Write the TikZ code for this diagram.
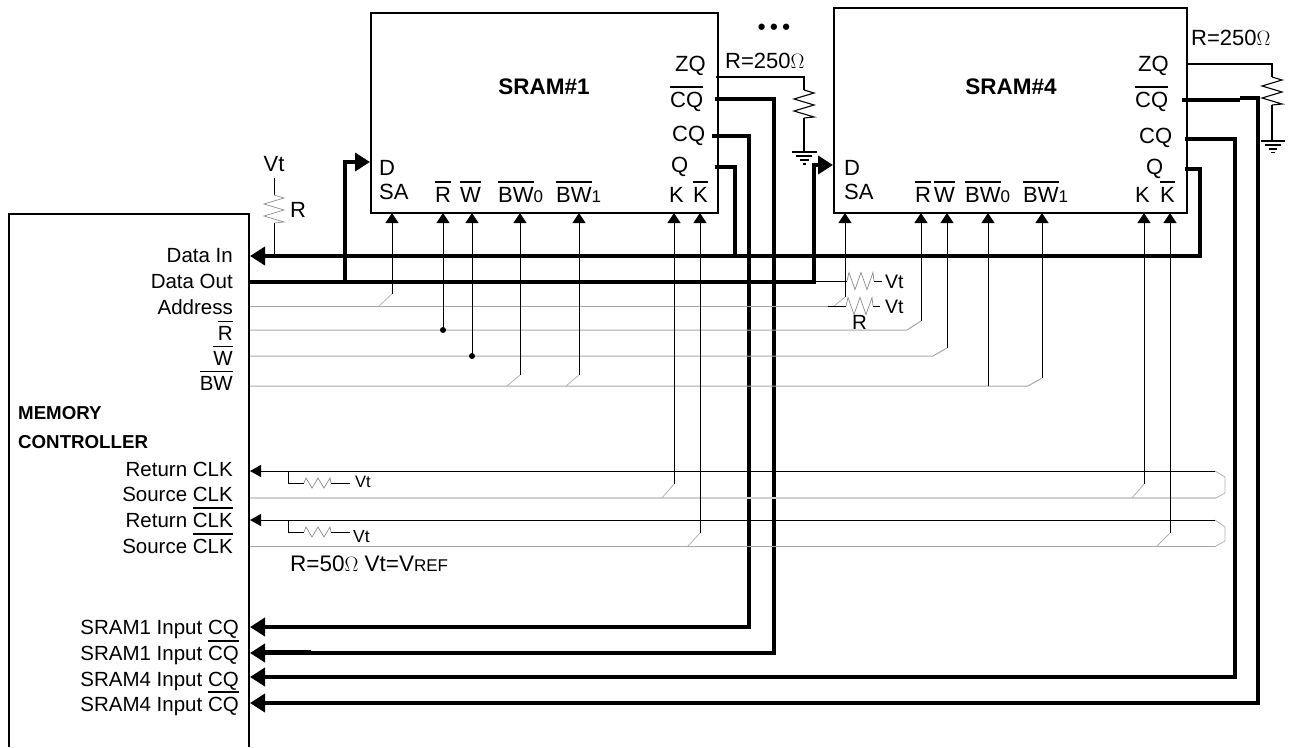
\documentclass[tikz,border=0pt]{standalone}
\usepackage{fontspec}
\setmainfont{Liberation Sans}
\usetikzlibrary{arrows.meta}
\newcommand{\ovl}[1]{\leavevmode\vbox{\hrule height 1.8pt\kern 3.6pt\hbox{#1}}}
\newcommand{\sbs}[1]{{\fontsize{17}{17}\selectfont #1}}
% horizontal zigzag resistor: x, y, amplitude
\newcommand{\hres}[3]{\draw[zig] (#1,#2) -- ++(2,-#3) -- ++(6,2*#3) -- ++(6,-2*#3) -- ++(6,2*#3) -- ++(6,-2*#3) -- ++(1,#3);}
% vertical zigzag resistor: x, y, amplitude, style
\newcommand{\vres}[4]{\draw[#4] (#1,#2) -- ++(#3,3) -- ++(-2*#3,6) -- ++(2*#3,6) -- ++(-2*#3,6) -- ++(2*#3,6) -- ++(-#3,1);}
\tikzset{
  x=1pt,y=-1pt,
  boxline/.style={draw=black,line width=1.8pt,line join=miter},
  pinbox/.style={boxline,fill=none,inner sep=0pt,anchor=north west},
  bus/.style={draw=black,line width=4pt,line join=miter},
  busin/.style={bus,-{Triangle[length=15pt,width=18pt]}},
  sig/.style={draw=black,line width=1pt},
  sigin/.style={sig,-{Triangle[length=10pt,width=13pt]}},
  clkin/.style={sig,-{Triangle[length=11pt,width=12pt]}},
  grayline/.style={draw=black!35,line width=1pt},
  palegray/.style={draw=black!18,line width=1.6pt},
  stub/.style={draw=black!30,line width=.8pt},
  zig/.style={draw=black!45,line width=.7pt},
  lbl/.style={inner sep=0pt,anchor=base east,font=\fontsize{20.5}{20.5}\selectfont},
  pin/.style={inner sep=0pt,anchor=base west,font=\fontsize{22}{22}\selectfont},
  dotjoin/.style={circle,fill=black,inner sep=0pt,minimum size=6pt},
}
\begin{document}
\begin{tikzpicture}
\useasboundingbox (0,0) rectangle (1290,747);
% boxes
\draw[boxline] (9,747) -- (9,214) -- (249,214) -- (249,747);
\node[pinbox,minimum width=347pt,minimum height=200pt] (sramA) at (370,12) {};
\node[pinbox,minimum width=353pt,minimum height=205pt] (sramD) at (833,7) {};
\node[inner sep=0pt,font=\bfseries\fontsize{22.5}{22.5}\selectfont] (tA) at (544,87) {SRAM\#1};
\node[inner sep=0pt,font=\bfseries\fontsize{22.5}{22.5}\selectfont] (tD) at (1011,87) {SRAM\#4};
\node[inner sep=0pt,font=\bfseries\fontsize{22}{22}\selectfont] (dots) at (774,29) {•\kern4.5pt•\kern4.5pt•};
% controller pins
\coordinate (cDI) at (250,256); \coordinate (cDO) at (249,282);
\coordinate (cAD) at (250,306); \coordinate (cR) at (250,330);
\coordinate (cW) at (250,356); \coordinate (cBW) at (250,386);
\coordinate (cRC) at (250,471); \coordinate (cSC) at (250,498);
\coordinate (cRN) at (250,520); \coordinate (cSN) at (250,546);
\coordinate (c1Q) at (250,627); \coordinate (c1N) at (250,653);
\coordinate (c4Q) at (250,677); \coordinate (c4N) at (250,703);
% thick buses
\draw[busin] (1185,169) -- (1200,169) -- (1200,256) -- (cDI);
\draw[bus] (715,167) -- (735,167) -- (735,256);
\draw[bus] (cDO) -- (814,282);
\draw[busin] (345,284) -- (345,162) -- (370,162);
\draw[busin] (814,284) -- (814,165) -- (833,165);
\draw[busin] (712,136) -- (749,136) -- (749,627) -- (c1Q);
\draw[busin] (715,99) -- (774,99) -- (774,653) -- (c1N);
\draw[bus] (265,652.4) -- (311,652.4);
\draw[busin] (1185,139) -- (1235,139) -- (1235,677) -- (c4Q);
\draw[busin] (1240,98) -- (1258,98) -- (1258,703) -- (c4N);
\draw[bus] (1182,100) -- (1240,100);
% address and control
\draw[grayline] (cAD) -- (834,306);
\draw[grayline] (cR) -- (907,330) -- (921,321);
\draw[grayline] (cW) -- (933,356) -- (947,348);
\draw[grayline] (cBW) -- (1028,386) -- (1042,378);
\draw[stub] (379,306) -- (392,294);
\draw[stub] (507,386) -- (520,375);
\draw[stub] (566,386) -- (579,375);
\draw[stub] (834,306) -- (845,297);
\draw[sigin] (392,294) -- (392,213);
\draw[sigin] (443,330) -- (443,213);
\draw[sigin] (472,356) -- (472,213);
\draw[sigin] (520,375) -- (520,213);
\draw[sigin] (579,375) -- (579,213);
\draw[sigin] (845,297) -- (845,213);
\draw[sigin] (921,321) -- (921,213);
\draw[sigin] (947,348) -- (947,213);
\draw[sigin] (988,386) -- (988,213);
\draw[sigin] (1042,378) -- (1042,213);
\node[dotjoin] (jR) at (443,330) {};
\node[dotjoin] (jW) at (472,356) {};
% clocks
\draw[palegray] (cSC) -- (1216,498);
\draw[grayline] (cSN) -- (1216,546);
\draw[stub] (1215,471) -- (1225,477) -- (1225,493) -- (1216,498);
\draw[stub] (1215,520) -- (1225,527) -- (1225,541) -- (1216,546);
\draw[clkin] (1215,471) -- (cRC);
\draw[clkin] (1215,520) -- (cRN);
\draw[stub] (662,498) -- (674,484);
\draw[stub] (688,546) -- (700,533);
\draw[stub] (1132,498) -- (1144,484);
\draw[stub] (1157,546) -- (1170,533);
\draw[sigin] (674,484) -- (674,213);
\draw[sigin] (700,533) -- (700,213);
\draw[sigin] (1144,484) -- (1144,213);
\draw[sigin] (1170,533) -- (1170,213);
% clock terminations
\draw[sig] (288,471) -- (288,483) -- (304,483);
\hres{304}{483}{5}
\draw[sig] (331,483) -- (350,483);
\draw[sig] (288,520) -- (288,532) -- (304,532);
\hres{304}{532}{5}
\draw[sig] (331,532) -- (350,532);
\node[inner sep=0pt,anchor=base west,font=\fontsize{16.5}{16.5}\selectfont] (vtA) at (355,487) {Vt};
\node[inner sep=0pt,anchor=base west,font=\fontsize{17.5}{17.5}\selectfont] (vtB) at (353,542) {Vt};
% Vt pull-up on Data In
\draw[sig] (274,178) -- (274,195);
\vres{274}{195}{10}{zig}
\draw[sig] (274,223) -- (274,256);
\node[pin,anchor=base] (vtC) at (274,171) {Vt};
\node[pin] (rC) at (290,217) {R};
% end terminations
\draw[sig] (815,281) -- (847,281);
\hres{847}{281}{8.5}
\draw[sig] (874,281) -- (882,281);
\node[pin,font=\fontsize{19.5}{19.5}\selectfont] (vtD) at (885,288) {Vt};
\draw[sig] (828,306) -- (846,306);
\hres{846}{306}{8.5}
\draw[sig] (873,306) -- (880,306);
\node[pin,font=\fontsize{19.5}{19.5}\selectfont] (vtE) at (885,313) {Vt};
\node[pin,font=\fontsize{20.5}{20.5}\selectfont] (rE) at (852,329) {R};
% ZQ resistors and grounds
\draw[sig,line width=1.2pt] (716,77) -- (804,77) -- (804,90);
\vres{804}{90}{10}{sig,line width=1.1pt}
\draw[sig,line width=1.2pt] (804,118) -- (804,152);
\draw[sig,line width=1.6pt] (792,152) -- (817,152) (796,156) -- (812,156) (800,160) -- (809,160) (803,164) -- (806,164);
\draw[sig,line width=1.2pt] (1186,64) -- (1272,64) -- (1272,77);
\vres{1272}{77}{10}{sig,line width=1.1pt}
\draw[sig,line width=1.2pt] (1272,105) -- (1272,141);
\draw[sig,line width=1.6pt] (1261,141) -- (1285,141) (1265,145) -- (1281,145) (1269,149) -- (1277,149) (1271,152.5) -- (1275,152.5);
\node[pin] (rzA) at (725,68) {R=250$\Omega$};
\node[pin] (rzD) at (1191,45) {R=250$\Omega$};
% controller labels
\node[lbl] (lDI) at (233,262) {Data In};
\node[lbl] (lDO) at (233,288) {Data Out};
\node[lbl] (lAD) at (233,314) {Address};
\node[lbl] (lR) at (233,340) {\ovl{R}};
\node[lbl] (lW) at (233,365) {\ovl{W}};
\node[lbl] (lBW) at (233,390) {\ovl{BW}};
\node[inner sep=0pt,anchor=base west,font=\bfseries\fontsize{18.7}{18.7}\selectfont] (mem) at (18,419) {MEMORY};
\node[inner sep=0pt,anchor=base west,font=\bfseries\fontsize{18.7}{18.7}\selectfont] (ctl) at (18,448) {CONTROLLER};
\node[lbl] (lRC) at (233,476) {Return CLK};
\node[lbl] (lSC) at (233,501) {Source CLK};
\node[lbl] (lRN) at (233,527) {Return \ovl{CLK}};
\node[lbl] (lSN) at (233,553) {Source \ovl{CLK}};
\node[pin,font=\fontsize{22.5}{22.5}\selectfont] (note) at (290,571) {R=50$\Omega$ Vt=V{\fontsize{17}{17}\selectfont REF}};
\node[lbl] (l1Q) at (239,634) {SRAM1 Input CQ};
\node[lbl] (l1N) at (239,660) {SRAM1 Input \ovl{CQ}};
\node[lbl] (l4Q) at (239,686) {SRAM4 Input CQ};
\node[lbl] (l4N) at (239,711) {SRAM4 Input \ovl{CQ}};
% SRAM#1 pins
\node[pin] (a1) at (379,175) {D};
\node[pin] (a2) at (379,199) {SA};
\node[pin] (a3) at (435,202) {\ovl{R}};
\node[pin] (a4) at (460,202) {\ovl{W}};
\node[pin] (a5) at (498,202) {\ovl{BW}\sbs{0}};
\node[pin] (a6) at (556,202) {\ovl{BW}\sbs{1}};
\node[pin] (a7) at (669,202) {K};
\node[pin] (a8) at (693,202) {\ovl{K}};
\node[pin] (a9) at (671,172) {Q};
\node[pin] (a10) at (672,141) {CQ};
\node[pin] (a11) at (670,107) {\ovl{CQ}};
\node[pin] (a12) at (675,71) {ZQ};
% SRAM#4 pins
\node[pin] (b1) at (844,175) {D};
\node[pin] (b2) at (844,199) {SA};
\node[pin] (b3) at (915,202) {\ovl{R}};
\node[pin] (b4) at (934,202) {\ovl{W}};
\node[pin] (b5) at (965,202) {\ovl{BW}\sbs{0}};
\node[pin] (b6) at (1023,202) {\ovl{BW}\sbs{1}};
\node[pin] (b7) at (1135,202) {K};
\node[pin] (b8) at (1160,202) {\ovl{K}};
\node[pin] (b9) at (1146,174) {Q};
\node[pin] (b10) at (1139,143) {CQ};
\node[pin] (b11) at (1135,107) {\ovl{CQ}};
\node[pin] (b12) at (1138,71) {ZQ};
\end{tikzpicture}
\end{document}
